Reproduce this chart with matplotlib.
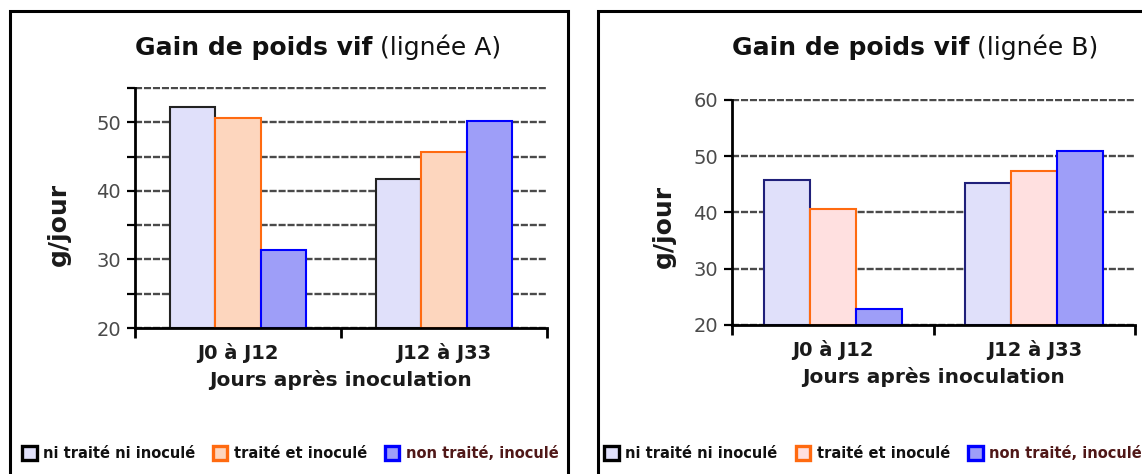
import matplotlib
matplotlib.use('Agg')  # headless
import matplotlib.pyplot as plt
from matplotlib.patches import Patch, Rectangle
from matplotlib.ticker import MultipleLocator

W, H = 1142, 474  # figure size in pixels (dpi 100)

# Data
categories = ['J0 à J12', 'J12 à J33']
series = ['ni traité ni inoculé', 'traité et inoculé', 'non traité, inoculé']
gain_a_ni = [52.3, 41.8]
gain_a_traite = [50.6, 45.6]
gain_a_non = [31.4, 50.2]
gain_b_ni = [45.8, 45.3]
gain_b_traite = [40.6, 47.4]
gain_b_non = [22.9, 51.0]

faces_a = ['#e0e0fa', '#fdd6be', '#9e9ef8']
edges_a = ['#222222', '#ff6a10', '#0000ff']
faces_b = ['#e0e0fa', '#ffe0e0', '#9e9ef8']
edges_b = ['#20207a', '#ff6a10', '#0000ff']
legend_text_colors = ['#111111', '#111111', '#501818']

plt.rcParams['font.family'] = 'DejaVu Sans'

fig = plt.figure(figsize=(W / 100, H / 100), dpi=100)
fig.patch.set_facecolor('white')


def px(x, y, w, h):
    return [x / W, y / H, w / W, h / H]


def panel(ax_px, box_px, values, faces, edges, ylim, major, minor, width,
          title_x, suffix, ylab_xy, legend_x, colspace):
    # outer frame
    bx, by, bw, bh = box_px
    fig.add_artist(Rectangle((bx / W, by / H), bw / W, bh / H, transform=fig.transFigure,
                             fill=False, lw=2.2, ec='black', clip_on=False))

    ax = fig.add_axes(px(*ax_px))
    n = len(values)
    for i, vals in enumerate(values):
        xs = [c + (i - (n - 1) / 2) * width for c in range(len(categories))]
        heights = [v - ylim[0] for v in vals]
        ax.bar(xs, heights, width, bottom=ylim[0], color=faces[i],
               edgecolor=edges[i], linewidth=1.5, zorder=3)

    ax.set_xlim(-0.5, len(categories) - 0.5)
    ax.set_ylim(ylim[0], ylim[1] + 0.15)  # small headroom so the top gridline isn't clipped
    ax.spines['left'].set_bounds(ylim[0], ylim[1])
    ax.yaxis.set_major_locator(MultipleLocator(major))
    ax.yaxis.set_minor_locator(MultipleLocator(minor))
    ax.grid(True, axis='y', which='both', color='#4a4a4a', lw=1.7, ls=(0, (3, 0.8)))
    ax.set_axisbelow(True)

    for s in ['top', 'right']:
        ax.spines[s].set_visible(False)
    for s in ['left', 'bottom']:
        ax.spines[s].set_linewidth(2.0)
        ax.spines[s].set_color('black')
        ax.spines[s].set_zorder(4)

    ax.tick_params(axis='y', which='both', direction='out', length=6, width=1.6,
                   labelsize=14, labelcolor='#4a4a4a', pad=4)
    ax.set_xticks(range(len(categories)))
    ax.set_xticklabels(categories, fontsize=14, fontweight='bold', color='#1a1a1a')
    ax.tick_params(axis='x', which='major', length=0, pad=11)
    ax.set_xticks([c - 0.5 for c in range(len(categories) + 1)], minor=True)
    ax.tick_params(axis='x', which='minor', direction='out', length=7, width=2)

    ax.set_xlabel('Jours après inoculation', fontsize=14.5, fontweight='bold',
                  color='#1a1a1a', labelpad=5)
    ax.set_ylabel('g/jour', fontsize=18, fontweight='bold', color='#1a1a1a')
    ax.yaxis.set_label_coords(*ylab_xy)

    # title: bold part + normal part
    t1 = fig.text(title_x / W, (H - 55) / H, 'Gain de poids vif', fontsize=18,
                  fontweight='bold', color='#111111', va='baseline', ha='left')
    ax.annotate(' ' + suffix, xy=(1, 0), xycoords=t1, fontsize=18, color='#111111',
                va='bottom', ha='left', annotation_clip=False)

    handles = [Patch(facecolor=f, edgecolor=e, linewidth=2.4) for f, e in zip(faces, edges)]
    handles[0].set_edgecolor('black')
    leg = ax.legend(handles, series, loc='center left', ncol=3,
                    bbox_to_anchor=(legend_x / W, (H - 453) / H),
                    bbox_transform=fig.transFigure, frameon=False, borderpad=0,
                    borderaxespad=0, handlelength=1.0, handleheight=1.1,
                    handletextpad=0.45, columnspacing=colspace,
                    prop={'size': 10.5, 'weight': 'bold'})
    for txt, c in zip(leg.get_texts(), legend_text_colors):
        txt.set_color(c)
    return ax


panel((135, 146, 412, 241), (10, -20, 558, 483),
      [gain_a_ni, gain_a_traite, gain_a_non], faces_a, edges_a,
      (20, 55), 10, 5, 0.22, 135, '(lignée A)', (-0.155, 0.43), 22, 1.2)

panel((732, 149, 403, 226), (598, -20, 600, 483),
      [gain_b_ni, gain_b_traite, gain_b_non], faces_b, edges_b,
      (20, 60), 10, 10, 0.228, 732, '(lignée B)', (-0.14, 0.435), 604, 1.25)

fig.savefig('out.png', dpi=100)
